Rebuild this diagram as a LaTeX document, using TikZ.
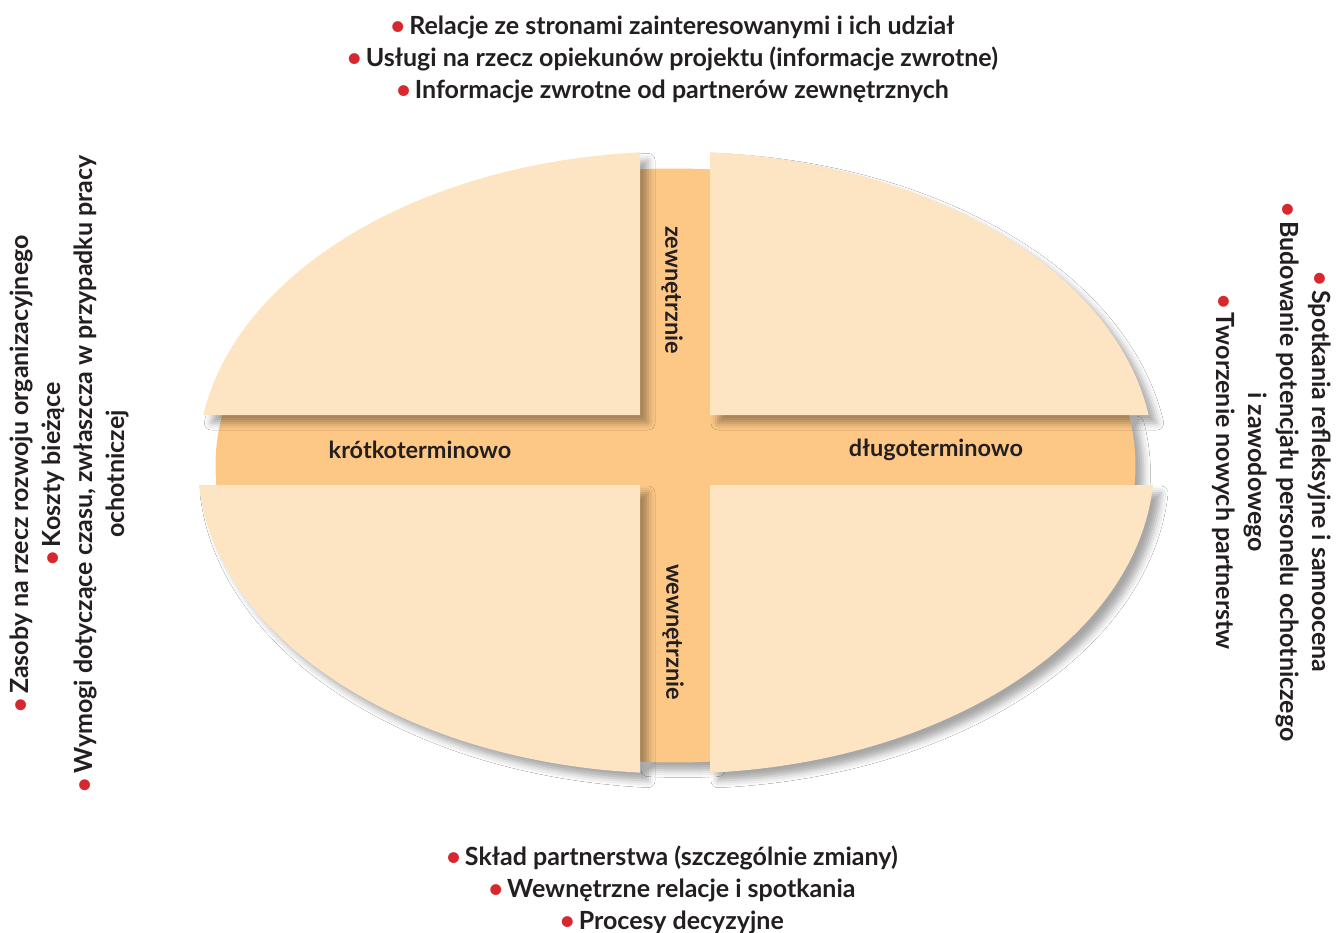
\documentclass[tikz,border=0pt]{standalone}
\usepackage{fontspec}
\setmainfont{Lato}
\usetikzlibrary{shadows.blur}
\definecolor{lightq}{HTML}{FDE4C2}
\definecolor{bandc}{HTML}{FDC886}
\definecolor{bred}{HTML}{D7282F}
\definecolor{ink}{HTML}{231F20}
\tikzset{
  softshadow/.style={blur shadow={shadow xshift=8pt, shadow yshift=-8pt, shadow blur radius=7pt, shadow opacity=35}},
  quad/.style={fill=lightq, softshadow},
  crossband/.style={fill=bandc, softshadow},
  listtext/.style={text=ink, font=\bfseries\fontsize{25}{32}\selectfont, align=center, inner sep=0pt},
  bandlbl/.style={text=ink, font=\bfseries\fontsize{23.5}{26}\selectfont, inner sep=0pt},
}
\newcommand{\bul}{\textcolor{bred}{\textbullet}\,}
\begin{document}
\begin{tikzpicture}[x=1pt,y=1pt]
\useasboundingbox[fill=white] (0,0) rectangle (1338,-933);
% orange cross (clipped by an ellipse)
\path[crossband]
  ([shift={(675.5,-465.5)}]94.426:460pt and 297pt)
  arc[start angle=94.426, end angle=85.699, x radius=460pt, y radius=297pt]
  -- (710,-415) -- ([shift={(675.5,-465.5)}]9.790:460pt and 297pt)
  arc[start angle=9.790, end angle=-3.765, x radius=460pt, y radius=297pt]
  -- (710,-485) -- ([shift={(675.5,-465.5)}]274.301:460pt and 297pt)
  arc[start angle=274.301, end angle=265.574, x radius=460pt, y radius=297pt]
  -- (640,-485) -- ([shift={(675.5,-465.5)}]183.765:460pt and 297pt)
  arc[start angle=183.765, end angle=170.210, x radius=460pt, y radius=297pt]
  -- (640,-415) -- cycle;
% quadrants
\path[quad] (640,-415) -- ([shift={(676,-462.5)}]171.215:478.3pt and 311pt)
  arc[start angle=171.215, end angle=94.317, x radius=478.3pt, y radius=311pt] -- cycle;
\path[quad] (710,-415) -- ([shift={(676,-462.5)}]85.923:478.3pt and 311pt)
  arc[start angle=85.923, end angle=8.785, x radius=478.3pt, y radius=311pt] -- cycle;
\path[quad] (640,-485) -- ([shift={(676,-462.5)}]184.149:478.3pt and 311pt)
  arc[start angle=184.149, end angle=265.683, x radius=478.3pt, y radius=311pt] -- cycle;
\path[quad] (710,-485) -- ([shift={(676,-462.5)}]274.077:478.3pt and 311pt)
  arc[start angle=274.077, end angle=355.851, x radius=478.3pt, y radius=311pt] -- cycle;
% band labels
\node[bandlbl] (krotko) at (420,-450) {krótkoterminowo};
\node[bandlbl] (dlugo) at (936,-450) {długoterminowo};
\node[bandlbl, rotate=-90] (zewn) at (672,-290) {zewnętrznie};
\node[bandlbl, rotate=-90] (wewn) at (673,-632) {wewnętrznie};
% lists
\node[listtext] (top) at (672.5,-59) {\bul Relacje ze stronami zainteresowanymi i ich udział\\
  \bul Usługi na rzecz opiekunów projektu (informacje zwrotne)\\
  \bul Informacje zwrotne od partnerów zewnętrznych};
\node[listtext] (bottom) at (672,-890) {\bul Skład partnerstwa (szczególnie zmiany)\\
  \bul Wewnętrzne relacje i spotkania\\
  \bul Procesy decyzyjne};
\node[listtext, rotate=90] (left) at (69,-474) {\bul Zasoby na rzecz rozwoju organizacyjnego\\
  \bul Koszty bieżące\\
  \bul Wymogi dotyczące czasu, zwłaszcza w przypadku pracy\\
  ochotniczej};
\node[listtext, rotate=-90] (right) at (1271.5,-472) {\bul Spotkania refleksyjne i samoocena\\
  \bul Budowanie potencjału personelu ochotniczego\\
  i zawodowego\\
  \bul Tworzenie nowych partnerstw};
\end{tikzpicture}
\end{document}
